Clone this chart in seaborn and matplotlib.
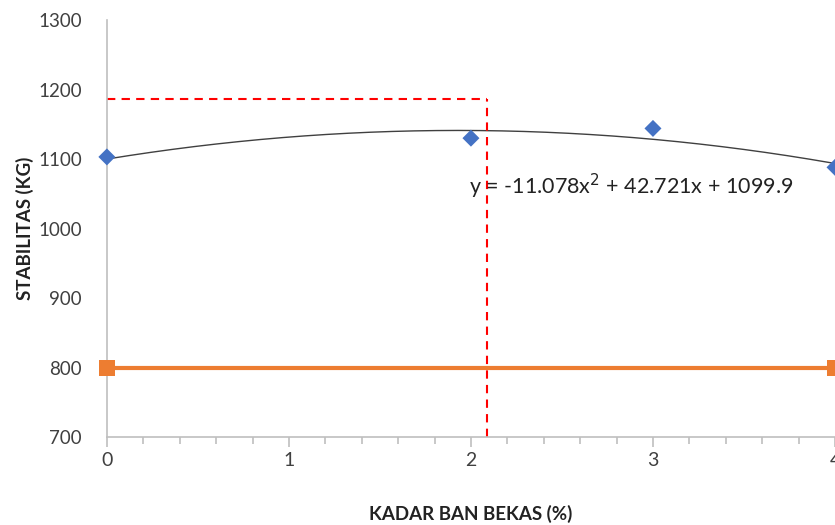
import numpy as np
import pandas as pd
import seaborn as sns
import matplotlib.pyplot as plt
from matplotlib.ticker import MultipleLocator

# data
kadar = [0, 2, 3, 4]
stabilitas = [1103, 1130, 1144, 1088]
batas_x = [0, 4]
batas_y = [800, 800]
coef = [-11.078, 42.721, 1099.9]   # trendline y = a x^2 + b x + c
opt_x = 2.09
opt_y = 1187

sns.set_style("white")
plt.rcParams["font.family"] = ["Lato", "DejaVu Sans"]

fig = plt.figure(figsize=(8.35, 5.25), dpi=100)
ax = fig.add_axes([0.128, 0.1676, 0.872, 0.7943])

xs = np.linspace(0, 4, 200)
trend = pd.DataFrame({"x": xs, "y": np.polyval(coef, xs)})
sns.lineplot(data=trend, x="x", y="y", color="#404040", lw=1.0, ax=ax)

pts = pd.DataFrame({"x": kadar, "y": stabilitas})
sns.scatterplot(data=pts, x="x", y="y", marker="D", s=75, color="#4472C4",
                edgecolor="none", ax=ax, zorder=4, clip_on=False)

bts = pd.DataFrame({"x": batas_x, "y": batas_y})
sns.lineplot(data=bts, x="x", y="y", color="#ED7D31", lw=3, marker="s",
             markersize=12, markeredgewidth=0, ax=ax, zorder=3, clip_on=False)

ax.plot([0, opt_x], [opt_y, opt_y], color="#FF0000", ls=(0, (4, 3)), lw=1.5, zorder=2)
ax.plot([opt_x, opt_x], [700, opt_y], color="#FF0000", ls=(0, (4, 3)), lw=1.5, zorder=2)

ax.text(1.99, 1060, "y = -11.078x$^2$ + 42.721x + 1099.9", fontsize=15.5,
        color="#222222", va="center", ha="left")

ax.set_xlim(0, 4)
ax.set_ylim(700, 1300)
ax.xaxis.set_major_locator(MultipleLocator(1))
ax.xaxis.set_minor_locator(MultipleLocator(0.2))
ax.yaxis.set_major_locator(MultipleLocator(100))

for s in ["top", "right"]:
    ax.spines[s].set_visible(False)
for s in ["left", "bottom"]:
    ax.spines[s].set_color("#BFBFBF")
    ax.spines[s].set_linewidth(1.2)

ax.tick_params(axis="x", which="major", direction="out", length=7, width=1.2,
               color="#BFBFBF", labelsize=14, labelcolor="#404040", pad=4, bottom=True)
ax.tick_params(axis="x", which="minor", direction="out", length=5, width=1.2,
               color="#BFBFBF", bottom=True)
ax.tick_params(axis="y", length=0, labelsize=13.5, labelcolor="#404040", pad=18)

ax.set_xlabel("KADAR BAN BEKAS (%)", fontsize=13.5, fontweight="bold",
              color="#222222", labelpad=26)
ax.set_ylabel("STABILITAS (KG)", fontsize=13.5, fontweight="bold",
              color="#222222", labelpad=3)

fig.savefig("out.png", dpi=100)
